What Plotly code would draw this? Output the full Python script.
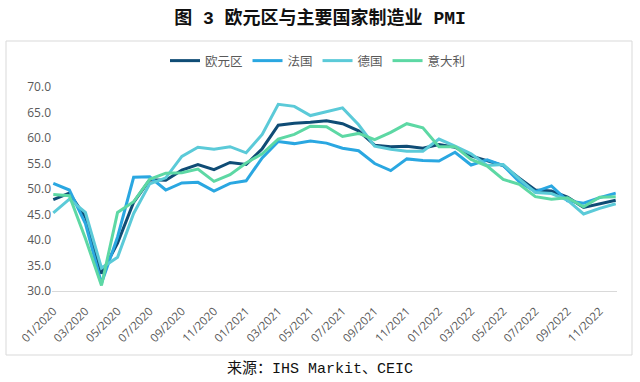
import plotly.graph_objects as go

months = [f"{m:02d}/{y}" for y in (2020, 2021, 2022) for m in range(1, 13)]

eurozone = [47.9, 49.2, 44.5, 33.4, 39.4, 47.4, 51.8, 51.7, 53.7, 54.8, 53.8, 55.2,
            54.8, 57.9, 62.5, 62.9, 63.1, 63.4, 62.8, 61.4, 58.6, 58.3, 58.4, 58.0,
            58.7, 58.2, 56.5, 55.5, 54.6, 52.1, 49.8, 49.6, 48.4, 46.4, 47.1, 47.8]
france = [51.1, 49.8, 43.2, 31.5, 40.6, 52.3, 52.4, 49.8, 51.2, 51.3, 49.6, 51.1,
          51.6, 56.1, 59.3, 58.9, 59.4, 59.0, 58.0, 57.5, 55.0, 53.6, 55.9, 55.6,
          55.5, 57.2, 54.7, 55.7, 54.6, 51.4, 49.5, 50.6, 47.7, 47.2, 48.3, 49.2]
germany = [45.3, 48.0, 45.4, 34.5, 36.6, 45.2, 51.0, 52.2, 56.4, 58.2, 57.8, 58.3,
           57.1, 60.7, 66.6, 66.2, 64.4, 65.1, 65.9, 62.6, 58.4, 57.8, 57.4, 57.4,
           59.8, 58.4, 56.9, 54.6, 54.8, 52.0, 49.3, 49.1, 47.8, 45.1, 46.2, 47.1]
italy = [48.9, 48.7, 40.3, 31.1, 45.4, 47.5, 51.9, 53.1, 53.2, 53.9, 51.5, 52.8,
         55.1, 56.9, 59.8, 60.7, 62.3, 62.2, 60.3, 60.9, 59.7, 61.1, 62.8, 62.0,
         58.3, 58.3, 55.8, 54.5, 51.9, 50.9, 48.5, 48.0, 48.3, 46.5, 48.4, 48.5]

series_names = ["欧元区", "法国", "德国", "意大利"]
series_values = [eurozone, france, germany, italy]
series_colors = ["#0F4C75", "#2AA7E1", "#5BCAD8", "#5DD8A4"]

tick_labels = months[::2]
y_ticks = [30, 35, 40, 45, 50, 55, 60, 65, 70]

fig = go.Figure()
for name, vals, col in zip(series_names, series_values, series_colors):
    fig.add_trace(go.Scatter(x=months, y=vals, name=name, mode="lines",
                             line=dict(color=col, width=3)))

W, H = 640, 382
L, R, T, B = 52, 23, 87, 91
pw = W - L - R
ph = H - T - B

def px_x(x):
    return (x - L) / pw

def px_y(y):
    return (H - B - y) / ph

cjk = "Noto Sans CJK SC"
mono = "Liberation Mono, " + cjk

fig.update_layout(
    width=W, height=H,
    margin=dict(l=L, r=R, t=T, b=B, autoexpand=False),
    paper_bgcolor="white", plot_bgcolor="white",
    font=dict(family="Open Sans, " + cjk, color="#595959", size=11),
    title=dict(text="<b>图 3 欧元区与主要国家制造业 PMI</b>", x=0.5, xanchor="center",
               y=1 - 18 / H, yanchor="middle",
               font=dict(family=mono, size=18, color="#111111")),
    showlegend=True,
    legend=dict(orientation="h", x=px_x(318), xanchor="center", y=px_y(61), yanchor="middle",
                font=dict(family=cjk, size=12.5, color="#595959"),
                bgcolor="rgba(0,0,0,0)", traceorder="normal", itemwidth=30),
    xaxis=dict(type="category", range=[-0.08, 35.08], tickmode="array",
               tickvals=tick_labels, ticktext=tick_labels, tickangle=-45,
               showgrid=False, showline=True, linecolor="#D9D9D9", linewidth=1,
               ticks="", tickfont=dict(size=11.5, color="#595959"), zeroline=False,
               automargin=False, ticklabelstandoff=8),
    yaxis=dict(range=[30, 70], tickmode="array", tickvals=y_ticks,
               ticktext=[f"{v:.1f}" for v in y_ticks], showgrid=False,
               zeroline=False, showline=False, ticks="", automargin=False,
               tickfont=dict(size=12, color="#595959")),
    shapes=[dict(type="rect", xref="paper", yref="paper",
                 x0=px_x(6), x1=px_x(632), y0=px_y(355), y1=px_y(41),
                 line=dict(color="#D9D9D9", width=1), layer="below")],
    annotations=[dict(text="来源：IHS Markit、CEIC", xref="paper", yref="paper",
                      x=px_x(320), y=px_y(369), xanchor="center", yanchor="middle",
                      showarrow=False, font=dict(family=mono, size=15, color="#111111"))],
)

fig.write_html("out.html", config={"displayModeBar": False},
               post_script="document.body.style.margin='0';document.body.style.overflow='hidden';")
